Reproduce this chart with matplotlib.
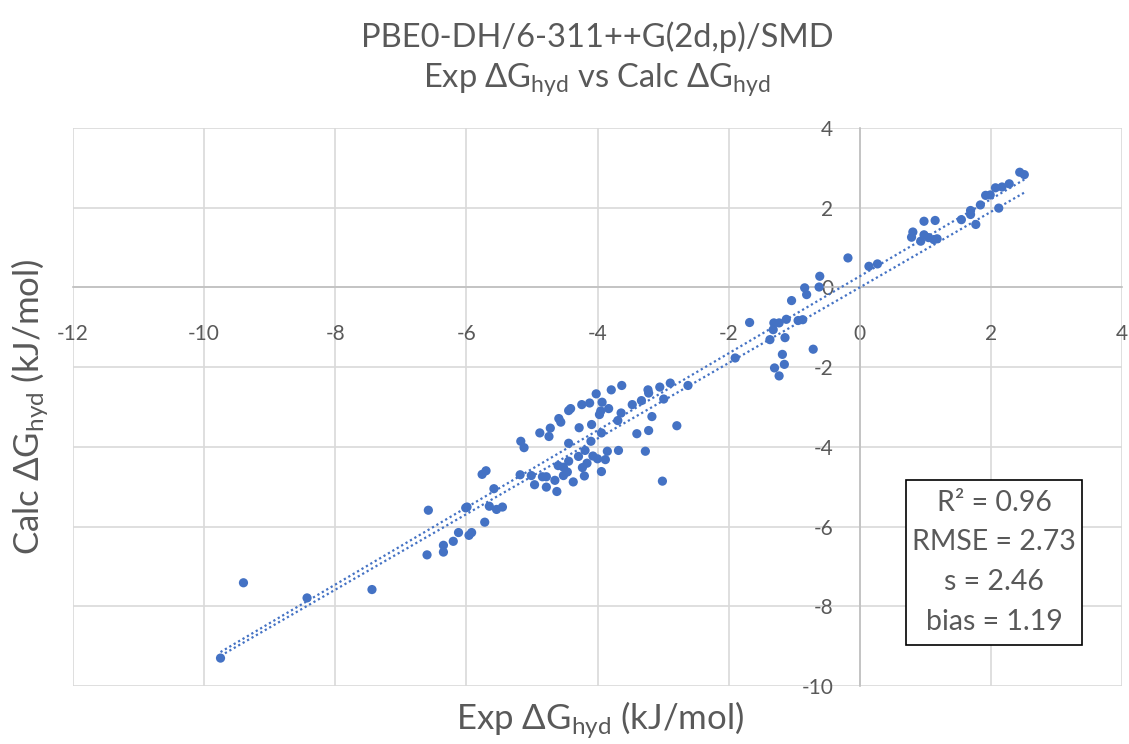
import matplotlib
matplotlib.use("Agg")
import matplotlib.pyplot as plt
from matplotlib.patches import Rectangle
import numpy as np

plt.rcParams['font.family'] = ['Lato', 'DejaVu Sans']
plt.rcParams['mathtext.fontset'] = 'custom'
plt.rcParams['mathtext.rm'] = 'Lato'
plt.rcParams['mathtext.it'] = 'Lato:italic'
plt.rcParams['mathtext.bf'] = 'Lato:bold'
plt.rcParams['axes.unicode_minus'] = False

# ---- data ----
exp_dg = [-9.75, -9.40, -8.43, -7.44, -6.58, -6.60, -6.35, -6.35, -6.20, -6.12,
          -5.96, -5.92, -5.99, -6.01, -5.72, -5.65, -5.54, -5.45, -5.58, -5.76,
          -5.70, -5.17, -5.12, -5.18, -5.01, -4.96, -4.84, -4.78, -4.78, -4.65,
          -4.62, -4.37, -4.60, -4.52, -4.46, -4.52, -4.44, -4.44, -4.88, -4.74,
          -4.72, -4.59, -4.56, -4.44, -4.41, -4.28, -4.24, -4.12, -4.02, -4.09,
          -4.10, -4.19, -4.29, -4.23, -4.16, -4.20, -4.07, -4.00, -3.88, -3.85,
          -3.94, -3.94, -3.97, -3.95, -3.93, -3.83, -3.79, -3.63, -3.64, -3.69,
          -3.68, -3.47, -3.33, -3.40, -3.23, -3.22, -3.17, -3.22, -3.27, -3.05,
          -2.99, -2.89, -2.62, -2.79, -3.01,
          -1.90, -1.68, -1.31, -1.23, -1.32, -1.37, -1.14, -1.12, -1.04, -0.94,
          -0.87, -1.18, -1.30, -1.15, -1.23, -0.71, -0.84, -0.81, -0.61, -0.62,
          -0.18, 0.14, 0.27,
          0.79, 0.81, 0.98, 1.15, 0.93, 0.98, 1.05, 1.13, 1.18, 1.55,
          1.69, 1.69, 1.77, 1.84, 1.92, 1.99, 2.07, 2.17, 2.12, 2.28,
          2.44, 2.51]
calc_dg = [-9.30, -7.41, -7.79, -7.58, -5.59, -6.71, -6.47, -6.64, -6.37, -6.15,
           -6.22, -6.15, -5.51, -5.53, -5.89, -5.49, -5.57, -5.51, -5.05, -4.69,
           -4.60, -3.86, -4.02, -4.70, -4.72, -4.95, -4.75, -4.75, -5.01, -4.84,
           -5.12, -4.88, -4.47, -4.51, -4.63, -4.72, -4.36, -3.91, -3.65, -3.74,
           -3.53, -3.29, -3.38, -3.09, -3.04, -3.52, -2.94, -2.90, -2.67, -3.44,
           -3.86, -4.09, -4.24, -4.52, -4.41, -4.73, -4.23, -4.30, -4.32, -4.11,
           -4.62, -3.65, -3.19, -3.10, -2.88, -3.04, -2.57, -2.46, -3.15, -3.34,
           -4.09, -2.94, -2.84, -3.67, -2.57, -2.65, -3.24, -3.59, -4.11, -2.50,
           -2.80, -2.40, -2.46, -3.47, -4.86,
           -1.77, -0.88, -0.89, -0.89, -1.06, -1.31, -1.26, -0.80, -0.33, -0.83,
           -0.81, -1.68, -2.02, -1.93, -2.22, -1.55, -0.01, -0.18, 0.28, 0.01,
           0.74, 0.53, 0.59,
           1.26, 1.39, 1.66, 1.68, 1.16, 1.32, 1.25, 1.20, 1.22, 1.70,
           1.93, 1.83, 1.58, 2.07, 2.31, 2.32, 2.50, 2.52, 1.99, 2.60,
           2.89, 2.83]

trend_slopes = [0.967, 0.948]
trend_intercepts = [0.28, 0.0]
trend_x_range = [-9.75, 2.53]

x_ticks = [-12, -10, -8, -6, -4, -2, 0, 2, 4]
y_ticks = [-10, -8, -6, -4, -2, 0, 2, 4]

title_line1 = "PBE0-DH/6-311++G(2d,p)/SMD"
title_line2 = "Exp \u0394G$_{\\mathrm{hyd}}$ vs Calc \u0394G$_{\\mathrm{hyd}}$"
x_label = "Exp \u0394G$_{\\mathrm{hyd}}$ (kJ/mol)"
y_label = "Calc \u0394G$_{\\mathrm{hyd}}$ (kJ/mol)"
stats_lines = ["R\u00b2 = 0.96", "RMSE = 2.73", "s = 2.46", "bias = 1.19"]

# ---- figure ----
W, H = 1129, 744
fig = plt.figure(figsize=(W / 100, H / 100), dpi=100)
ax = fig.add_axes([73 / W, 1 - 686 / H, (1122 - 73) / W, (686 - 128) / H])

txt_col = '#595959'
pt_col = '#4472C4'

ax.set_xlim(-12, 4)
ax.set_ylim(-10, 4)
ax.set_xticks(x_ticks)
ax.set_yticks(y_ticks)
ax.grid(True, color='#d9d9d9', linewidth=1.2, zorder=0)
ax.set_axisbelow(True)

for s in ['top', 'right']:
    ax.spines[s].set_visible(False)
ax.spines['left'].set_position(('data', 0))
ax.spines['bottom'].set_position(('data', 0))
for s in ['left', 'bottom']:
    ax.spines[s].set_color('#bfbfbf')
    ax.spines[s].set_linewidth(1.2)
    ax.spines[s].set_zorder(1)

ax.tick_params(axis='both', length=0, labelsize=15, labelcolor=txt_col)
ax.tick_params(axis='x', pad=26)
ax.tick_params(axis='y', pad=19)

xs = np.linspace(trend_x_range[0], trend_x_range[1], 50)
for m, b in zip(trend_slopes, trend_intercepts):
    ax.plot(xs, m * xs + b, color=pt_col, linewidth=1.6,
            linestyle=(0, (1, 1.3)), zorder=2)

ax.scatter(exp_dg, calc_dg, s=44, color=pt_col, edgecolors='none', zorder=3)

# titles
fig.text(597 / W, 1 - 37 / H, title_line1, ha='center', va='center',
         fontsize=23.5, color=txt_col)
fig.text(597 / W, 1 - 80 / H, title_line2, ha='center', va='center',
         fontsize=23.5, color=txt_col)

fig.text(600 / W, 1 - 720 / H, x_label, ha='center', va='center',
         fontsize=25, color=txt_col)
fig.text(30 / W, 1 - 407 / H, y_label, ha='center', va='center',
         rotation=90, fontsize=25, color=txt_col)

# stats box
bx0, by0, bx1, by1 = 906, 480, 1082, 645
fig.patches.append(Rectangle((bx0 / W, 1 - by1 / H), (bx1 - bx0) / W,
                             (by1 - by0) / H, transform=fig.transFigure,
                             facecolor='white', edgecolor='black',
                             linewidth=1.2, zorder=5))
for i, line in enumerate(stats_lines):
    fig.text(994 / W, 1 - (503 + 39.5 * i) / H, line, ha='center',
             va='center', fontsize=20.5, color=txt_col, zorder=6)

fig.savefig('out.png', dpi=100)
